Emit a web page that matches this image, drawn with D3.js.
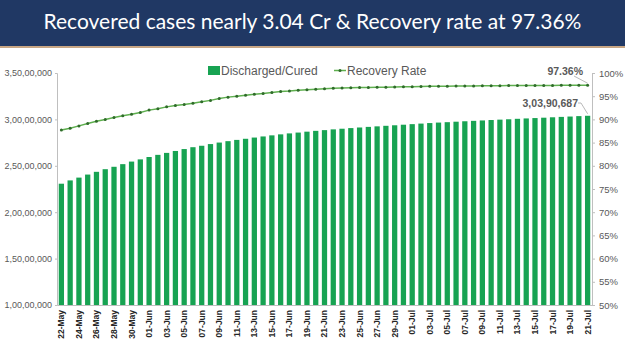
<!DOCTYPE html>
<html>
<head>
<meta charset="utf-8">
<script src="https://cdn.jsdelivr.net/npm/d3@7"></script>
<style>
  body { margin: 0; background: #fff; }
  svg { display: block; }
</style>
</head>
<body>
<div id="chart"></div>
<script>
'use strict';

// dates shown on the x axis (every day, label every other one)
const dates = [
  "22-May","23-May","24-May","25-May","26-May","27-May","28-May","29-May","30-May","31-May",
  "01-Jun","02-Jun","03-Jun","04-Jun","05-Jun","06-Jun","07-Jun","08-Jun","09-Jun","10-Jun",
  "11-Jun","12-Jun","13-Jun","14-Jun","15-Jun","16-Jun","17-Jun","18-Jun","19-Jun","20-Jun",
  "21-Jun","22-Jun","23-Jun","24-Jun","25-Jun","26-Jun","27-Jun","28-Jun","29-Jun","30-Jun",
  "01-Jul","02-Jul","03-Jul","04-Jul","05-Jul","06-Jul","07-Jul","08-Jul","09-Jul","10-Jul",
  "11-Jul","12-Jul","13-Jul","14-Jul","15-Jul","16-Jul","17-Jul","18-Jul","19-Jul","20-Jul",
  "21-Jul"];

// cumulative discharged / cured
const cured = [
  23070365, 23425467, 23728011, 24054861, 24350816, 24633951, 24893410, 25178011, 25454320, 25692342,
  25947629, 26179085, 26390584, 26597655, 26804192, 27004234, 27159180, 27341462, 27504126, 27655493,
  27790073, 27911384, 28043446, 28162947, 28280472, 28388100, 28491670, 28580647, 28678390, 28766009,
  28844199, 28926038, 28994855, 29063740, 29128267, 29193085, 29251029, 29309607, 29366601, 29427330,
  29488918, 29548302, 29605779, 29658078, 29700430, 29752294, 29799534, 29845000, 29888284, 29933538,
  29975064, 30014713, 30063720, 30104720, 30143850, 30183876, 30227792, 30269796, 30308456, 30353710,
  30390687];

// recovery rate in %
const recovery = [
  87.7, 88.1, 88.6, 89.1, 89.6, 90.0, 90.4, 90.8, 91.1, 91.5,
  92.0, 92.3, 92.7, 93.0, 93.2, 93.5, 93.8, 94.1, 94.5, 94.8,
  95.0, 95.2, 95.4, 95.6, 95.8, 96.0, 96.1, 96.3, 96.4, 96.5,
  96.6, 96.7, 96.75, 96.8, 96.85, 96.9, 96.92, 96.95, 97.0, 97.02,
  97.05, 97.1, 97.12, 97.15, 97.17, 97.19, 97.2, 97.22, 97.24, 97.25,
  97.27, 97.28, 97.29, 97.3, 97.31, 97.32, 97.33, 97.34, 97.35, 97.35,
  97.36];

const leftTicks = [10000000, 15000000, 20000000, 25000000, 30000000, 35000000];
const rightTicks = [50, 55, 60, 65, 70, 75, 80, 85, 90, 95, 100];

const title = "Recovered cases nearly 3.04 Cr & Recovery rate at 97.36%";

const width = 625, height = 351;
const margin = { top: 73, right: 33, bottom: 46, left: 57 };

const barColor = "#17a352";
const lineColor = "#5fb04f";
const dotColor = "#2f6b2a";
const textGrey = "#595959";

// indian digit grouping: 3,50,00,000
function indian(n) {
  const s = Math.round(n).toString();
  if (s.length <= 3) return s;
  const last3 = s.slice(-3);
  let rest = s.slice(0, -3);
  const parts = [];
  while (rest.length > 2) {
    parts.unshift(rest.slice(-2));
    rest = rest.slice(0, -2);
  }
  if (rest.length) parts.unshift(rest);
  return parts.join(",") + "," + last3;
}

const svg = d3.select("#chart").append("svg")
  .attr("width", width)
  .attr("height", height);

// title bar
svg.append("rect")
  .attr("x", 0).attr("y", 0)
  .attr("width", width).attr("height", 46)
  .attr("fill", "#203864");
svg.append("rect")
  .attr("x", 0).attr("y", 46)
  .attr("width", width).attr("height", 2)
  .attr("fill", "#c8a684");

svg.append("text")
  .attr("x", width / 2)
  .attr("y", 29)
  .attr("text-anchor", "middle")
  .attr("fill", "#ffffff")
  .style("font-family", "Lato, 'Open Sans', sans-serif")
  .style("font-size", "21px")
  .text(title);

const x = d3.scaleBand()
  .domain(dates)
  .range([margin.left, width - margin.right])
  .paddingInner(0.4)
  .paddingOuter(0.2);

const y = d3.scaleLinear()
  .domain([10000000, 35000000])
  .range([height - margin.bottom, margin.top]);

const y2 = d3.scaleLinear()
  .domain([50, 100])
  .range([height - margin.bottom, margin.top]);

// bars
svg.append("g")
  .attr("class", "bars")
  .attr("fill", barColor)
  .selectAll("rect")
  .data(cured)
  .join("rect")
    .attr("x", (d, i) => x(dates[i]))
    .attr("y", d => y(d))
    .attr("width", x.bandwidth())
    .attr("height", d => y(10000000) - y(d));

// left axis
const yAxis = g => g
  .attr("transform", `translate(${margin.left},0)`)
  .call(d3.axisLeft(y).tickValues(leftTicks).tickFormat(indian).tickSize(2).tickPadding(3))
  .call(g => g.selectAll("line, path").attr("stroke", "#bfbfbf"))
  .call(g => g.selectAll("text")
    .attr("fill", textGrey)
    .style("font-family", "'Liberation Sans', Arial, sans-serif")
    .style("font-size", "9px"));
svg.append("g").attr("class", "y-axis").call(yAxis);

// right axis
const y2Axis = g => g
  .attr("transform", `translate(${width - margin.right},0)`)
  .call(d3.axisRight(y2).tickValues(rightTicks).tickFormat(d => d + "%").tickSize(3).tickPadding(4))
  .call(g => g.selectAll("line, path").attr("stroke", "#bfbfbf"))
  .call(g => g.selectAll("text")
    .attr("fill", textGrey)
    .style("font-family", "'Liberation Sans', Arial, sans-serif")
    .style("font-size", "9.5px"));
svg.append("g").attr("class", "y2-axis").call(y2Axis);

// bottom axis, label every other day
const xAxis = g => g
  .attr("transform", `translate(0,${height - margin.bottom})`)
  .call(d3.axisBottom(x).tickValues(dates.filter((d, i) => i % 2 === 0)).tickSize(0).tickSizeOuter(0))
  .call(g => g.select(".domain").attr("stroke", "#bfbfbf"))
  .call(g => g.selectAll("text")
    .attr("transform", "rotate(-90)")
    .attr("text-anchor", "end")
    .attr("x", -5)
    .attr("y", 0)
    .attr("dy", "0.35em")
    .attr("fill", "#262626")
    .style("font-family", "'Liberation Sans', Arial, sans-serif")
    .style("font-weight", "bold")
    .style("font-size", "8.5px"));
svg.append("g").attr("class", "x-axis").call(xAxis);

// recovery rate line
const line = d3.line()
  .x((d, i) => x(dates[i]) + x.bandwidth() / 2)
  .y(d => y2(d));

svg.append("path")
  .datum(recovery)
  .attr("fill", "none")
  .attr("stroke", lineColor)
  .attr("stroke-width", 1.5)
  .attr("d", line);

svg.append("g")
  .attr("fill", dotColor)
  .selectAll("circle")
  .data(recovery)
  .join("circle")
    .attr("cx", (d, i) => x(dates[i]) + x.bandwidth() / 2)
    .attr("cy", d => y2(d))
    .attr("r", 1.5);

// legend
const legend = svg.append("g")
  .style("font-family", "'Liberation Sans', Arial, sans-serif")
  .style("font-size", "12px")
  .attr("fill", textGrey);

legend.append("rect")
  .attr("x", 208).attr("y", 66)
  .attr("width", 12).attr("height", 9)
  .attr("fill", barColor);
legend.append("text")
  .attr("x", 221).attr("y", 75)
  .text("Discharged/Cured");

legend.append("line")
  .attr("x1", 334).attr("x2", 346)
  .attr("y1", 70.5).attr("y2", 70.5)
  .attr("stroke", lineColor)
  .attr("stroke-width", 1.5);
legend.append("circle")
  .attr("cx", 340).attr("cy", 70.5).attr("r", 1.5)
  .attr("fill", dotColor);
legend.append("text")
  .attr("x", 347).attr("y", 75)
  .text("Recovery Rate");

// data labels for the last point
const last = dates.length - 1;
const lastX = x(dates[last]) + x.bandwidth() / 2;

svg.append("line")
  .attr("x1", 574).attr("y1", 76)
  .attr("x2", lastX).attr("y2", y2(recovery[last]) - 2)
  .attr("stroke", "#a6a6a6").attr("stroke-width", 0.8);
svg.append("text")
  .attr("x", 583).attr("y", 75)
  .attr("text-anchor", "end")
  .attr("fill", textGrey)
  .style("font-family", "'Liberation Sans', Arial, sans-serif")
  .style("font-weight", "bold")
  .style("font-size", "10.5px")
  .text(recovery[last].toFixed(2) + "%");

svg.append("path")
  .attr("d", `M578,103 L581,103 L${lastX},${y(cured[last]) - 2}`)
  .attr("fill", "none")
  .attr("stroke", "#a6a6a6").attr("stroke-width", 0.8);
svg.append("text")
  .attr("x", 578).attr("y", 107)
  .attr("text-anchor", "end")
  .attr("fill", textGrey)
  .style("font-family", "'Liberation Sans', Arial, sans-serif")
  .style("font-weight", "bold")
  .style("font-size", "10.5px")
  .text(indian(cured[last]));
</script>
</body>
</html>
